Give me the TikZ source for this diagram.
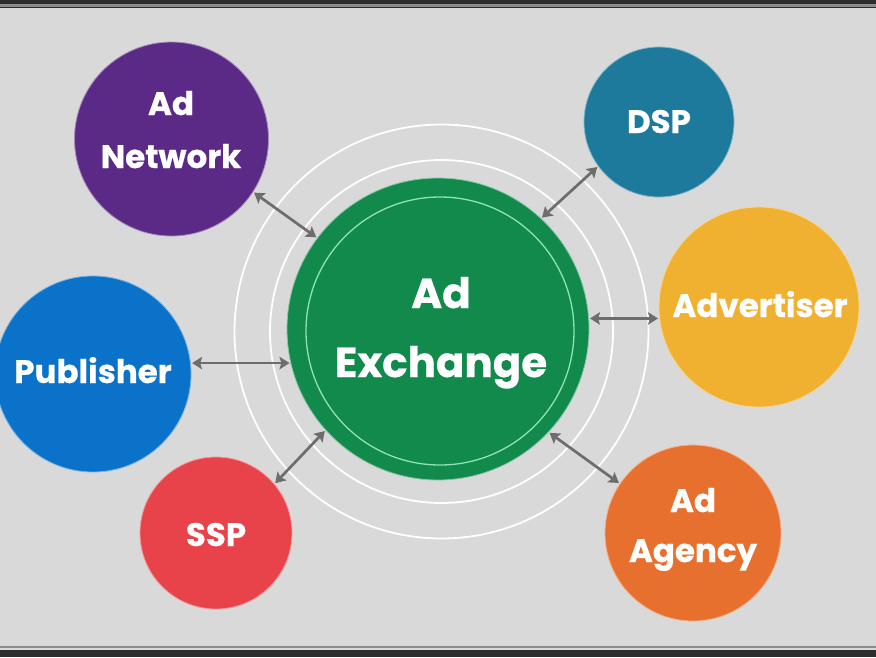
\documentclass[tikz,border=0pt]{standalone}
\usepackage{fontspec}
\setmainfont{Poppins}[BoldFeatures={FakeBold=0.6}]
\usetikzlibrary{arrows.meta}
\definecolor{bg}{HTML}{D9D9D9}
\definecolor{cpurple}{HTML}{5B2A86}
\definecolor{cteal}{HTML}{1D7A9C}
\definecolor{cyellow}{HTML}{F0B030}
\definecolor{cblue}{HTML}{0B72C9}
\definecolor{cred}{HTML}{E8424A}
\definecolor{corange}{HTML}{E8702E}
\definecolor{cgreen}{HTML}{118A4C}
\definecolor{cringgreen}{HTML}{8FE3B5}
\definecolor{carrow}{HTML}{6D6D6D}
\definecolor{cdark}{HTML}{2E2E2E}
\definecolor{cmid}{HTML}{8C8C8C}
\tikzset{
  bubble/.style={circle, inner sep=0pt, minimum size=#1},
  lbl/.style={text=white, font=\bfseries\fontsize{32.5}{32.5}\selectfont, anchor=base, inner sep=0pt},
  biglbl/.style={text=white, font=\bfseries\fontsize{42}{42}\selectfont, anchor=base, inner sep=0pt},
  link/.style={carrow, line width=2.7pt, {Stealth[length=10pt,width=12.5pt,inset=2pt]}-{Stealth[length=10pt,width=12.5pt,inset=2pt]}, shorten <=1pt, shorten >=1pt},
  ring/.style={white, line width=1.8pt}
}
\begin{document}
\begin{tikzpicture}[x=1pt,y=-1pt]
\useasboundingbox (0,0) rectangle (876,657);
\fill[bg] (0,0) rectangle (876,657);
% frame bars
\fill[cdark] (0,0) rectangle (876,3.5);
\fill[cmid] (0,3.5) rectangle (876,6.5);
\fill[cdark] (0,6.5) rectangle (876,8);
\fill[cmid] (0,645.5) rectangle (876,648);
\fill[cdark] (0,649.5) rectangle (876,657);
% rings
\coordinate (rc) at (441.5,331.5);
\draw[ring] (rc) circle[radius=171.5];
\draw[ring] (rc) circle[radius=207];
% centre
\node[bubble=302pt, fill=cgreen, draw=cgreen!50!white, line width=0.8pt] (adx) at (438,329) {};
\draw[cringgreen, line width=1.3pt] (440,331) circle[radius=134];
\node[biglbl] (adx-a) at (441,308) {Ad};
\node[biglbl] (adx-b) at (441,377) {Exchange};
% satellites
\node[bubble=194pt, fill=cpurple, draw=cpurple!55!white, line width=0.8pt] (net) at (171.5,139) {};
\node[lbl] (net-a) at (171,115) {Ad};
\node[lbl] (net-b) at (171,168) {Network};
\node[bubble=150pt, fill=cteal, draw=cteal!55!white, line width=0.8pt] (dsp) at (659,122) {};
\node[lbl] (dsp-a) at (659,133) {DSP};
\node[bubble=200pt, fill=cyellow, draw=cyellow!55!white, line width=0.8pt] (adv) at (759,307) {};
\node[lbl] (adv-a) at (760,317) {Advertiser};
\node[bubble=196pt, fill=cblue, draw=cblue!55!white, line width=0.8pt] (pub) at (93,374) {};
\node[lbl] (pub-a) at (93,383) {Publisher};
\node[bubble=152pt, fill=cred, draw=cred!55!white, line width=0.8pt] (ssp) at (216,533) {};
\node[lbl] (ssp-a) at (216,546) {SSP};
\node[bubble=176pt, fill=corange, draw=corange!55!white, line width=0.8pt] (agy) at (693,533) {};
\node[lbl] (agy-a) at (693,512) {Ad};
\node[lbl] (agy-b) at (693,562) {Agency};
% connectors
\draw[link] (net.-33) -- (adx.143);
\draw[link] (dsp.-144) -- (adx.47);
\draw[link] (adx.4.9 -| adv.185.2) -- (adx.4.9);
\draw[link] (adx.193.8 -| pub.4.6) -- (adx.193.8);
\draw[link] (ssp.40.2) -- (adx.222.3);
\draw[link] (agy.146.8) -- (adx.-43);
\end{tikzpicture}
\end{document}
